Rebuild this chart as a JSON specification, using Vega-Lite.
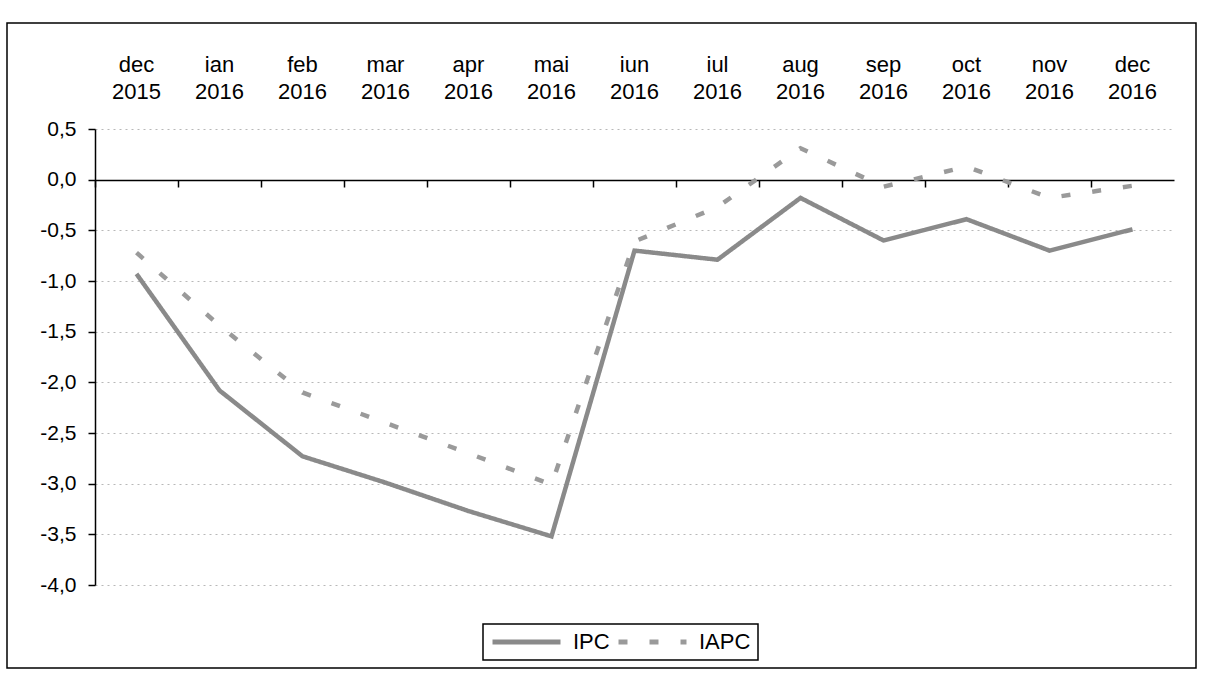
{
  "$schema": "https://vega.github.io/schema/vega-lite/v6.json",
  "width": 1189,
  "height": 645,
  "autosize": {"type": "none"},
  "padding": {"left": 7, "top": 23, "right": 12, "bottom": 7},
  "background": "white",
  "config": {
    "view": {"stroke": "black", "strokeWidth": 1.5},
    "font": "Liberation Sans",
    "axis": {"labelFont": "Liberation Sans", "labelColor": "black", "domainColor": "black", "tickColor": "black"},
    "legend": {"strokeWidth": 1.5}
  },
  "data": {
    "values": [
      {"month": "dec 2015", "series": "IPC", "value": -0.93},
      {"month": "ian 2016", "series": "IPC", "value": -2.08},
      {"month": "feb 2016", "series": "IPC", "value": -2.73},
      {"month": "mar 2016", "series": "IPC", "value": -2.99},
      {"month": "apr 2016", "series": "IPC", "value": -3.27},
      {"month": "mai 2016", "series": "IPC", "value": -3.52},
      {"month": "iun 2016", "series": "IPC", "value": -0.7},
      {"month": "iul 2016", "series": "IPC", "value": -0.79},
      {"month": "aug 2016", "series": "IPC", "value": -0.18},
      {"month": "sep 2016", "series": "IPC", "value": -0.6},
      {"month": "oct 2016", "series": "IPC", "value": -0.39},
      {"month": "nov 2016", "series": "IPC", "value": -0.7},
      {"month": "dec 2016", "series": "IPC", "value": -0.49},
      {"month": "dec 2015", "series": "IAPC", "value": -0.72},
      {"month": "ian 2016", "series": "IAPC", "value": -1.44},
      {"month": "feb 2016", "series": "IAPC", "value": -2.1},
      {"month": "mar 2016", "series": "IAPC", "value": -2.4},
      {"month": "apr 2016", "series": "IAPC", "value": -2.7},
      {"month": "mai 2016", "series": "IAPC", "value": -3.01},
      {"month": "iun 2016", "series": "IAPC", "value": -0.61},
      {"month": "iul 2016", "series": "IAPC", "value": -0.27},
      {"month": "aug 2016", "series": "IAPC", "value": 0.31},
      {"month": "sep 2016", "series": "IAPC", "value": -0.07},
      {"month": "oct 2016", "series": "IAPC", "value": 0.13},
      {"month": "nov 2016", "series": "IAPC", "value": -0.18},
      {"month": "dec 2016", "series": "IAPC", "value": -0.06}
    ]
  },
  "encoding": {
    "y": {
      "field": "value", "type": "quantitative",
      "scale": {"domain": [-4, 0.5], "range": [562, 106], "nice": false, "zero": false},
      "axis": {"orient": "left", "offset": -88, "values": [-4, -3.5, -3, -2.5, -2, -1.5, -1, -0.5, 0, 0.5], "labelExpr": "replace(replace(format(datum.value, '.1f'), '.', ','), '−', '-')", "labelFontSize": 21, "tickSize": 7, "tickWidth": 1.5, "labelPadding": 12, "domainWidth": 1.5, "grid": true, "gridColor": "#b8b8b8", "gridDash": [2, 4], "gridWidth": 1, "title": null}
    }
  },
  "layer": [
    {
      "mark": {"type": "line", "strokeWidth": 4.5},
      "encoding": {
        "x": {
          "field": "month", "type": "ordinal", "sort": null, "bandPosition": 0.5,
          "scale": {"type": "band", "range": [88, 1167], "paddingInner": 0, "paddingOuter": 0},
          "axis": {"orient": "top", "offset": -48, "domain": false, "ticks": false, "tickSize": 0, "labelPadding": 0, "labelAngle": 0, "labelBaseline": "alphabetic", "labelFontSize": 22, "labelLineHeight": 27, "labelExpr": "split(datum.label, ' ')", "title": null, "grid": false}
        },
        "color": {
          "field": "series", "type": "nominal",
          "scale": {"domain": ["IPC", "IAPC"], "range": ["#8a8a8a", "#9a9a9a"]},
          "legend": {"orient": "none", "legendX": 476, "legendY": 601, "direction": "horizontal", "title": null, "strokeColor": "black", "fillColor": "white", "symbolType": "stroke", "symbolSize": 4624, "symbolStrokeWidth": 5, "labelFontSize": 22, "labelFont": "Liberation Sans", "labelColor": "black", "padding": 7, "columnPadding": 6, "labelOffset": 10, "clipHeight": 22}
        },
        "strokeDash": {
          "field": "series", "type": "nominal",
          "scale": {"domain": ["IPC", "IAPC"], "range": [[1, 0], [9, 22]]},
          "legend": {"orient": "none", "legendX": 476, "legendY": 601, "direction": "horizontal", "title": null, "strokeColor": "black", "fillColor": "white", "symbolType": "stroke", "symbolSize": 4624, "symbolStrokeWidth": 5, "labelFontSize": 22, "labelFont": "Liberation Sans", "labelColor": "black", "padding": 7, "columnPadding": 6, "labelOffset": 10, "clipHeight": 22}
        }
      }
    },
    {
      "mark": {"type": "line", "opacity": 0},
      "encoding": {
        "x": {
          "field": "month", "type": "ordinal", "sort": null, "bandPosition": 0.5,
          "axis": {"orient": "bottom", "offset": -488, "labels": false, "domain": true, "domainWidth": 1.5, "ticks": true, "tickSize": 7, "tickWidth": 1.5, "bandPosition": 0, "title": null, "grid": false}
        }
      }
    }
  ],
  "resolve": {"axis": {"x": "independent"}}
}
